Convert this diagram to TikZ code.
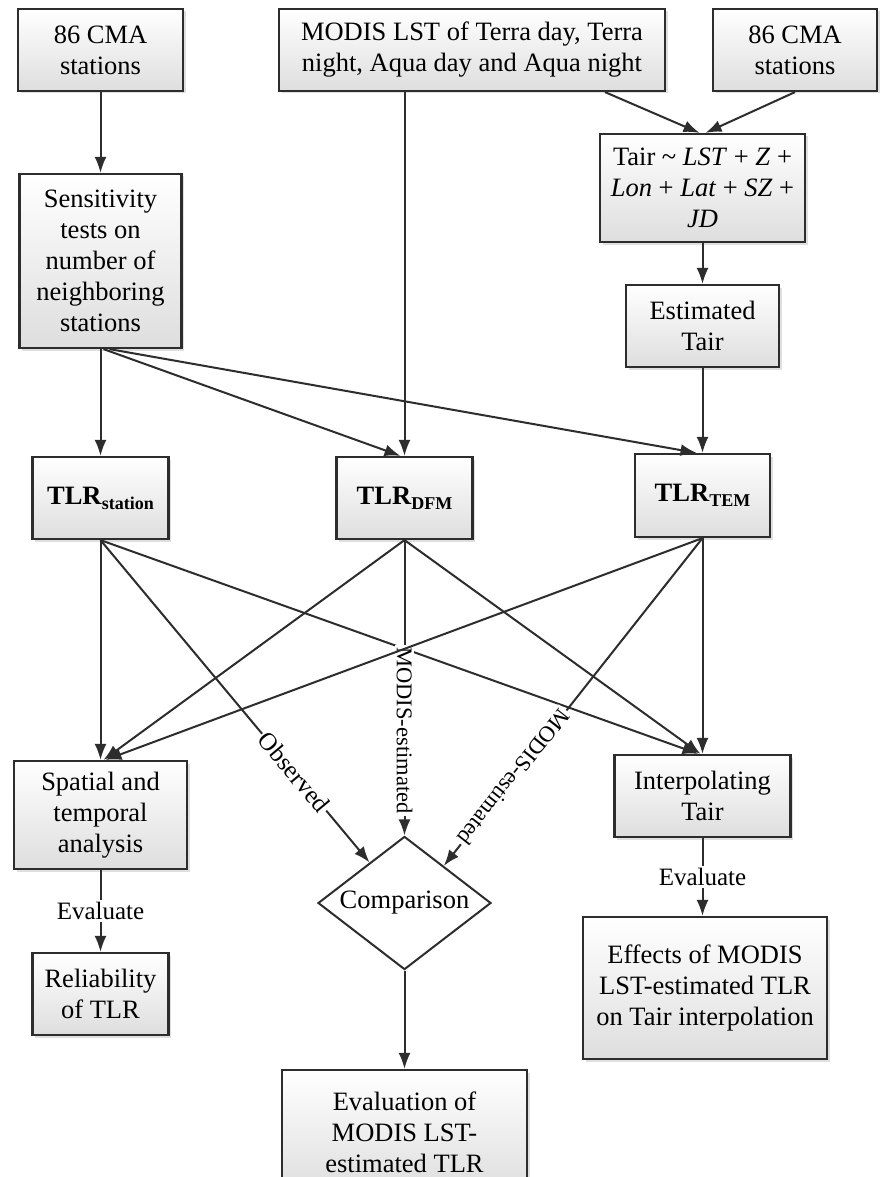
\documentclass[tikz,border=0pt]{standalone}
\usepackage{fontspec}
\setmainfont{Liberation Serif}
\usetikzlibrary{shapes.geometric,arrows.meta,shadows,calc}
\definecolor{lncol}{RGB}{45,45,45}
\begin{document}
\begin{tikzpicture}[x=1pt,y=-1pt,
  ln/.style={draw=lncol, line width=2pt},
  arr/.style={ln, -{Latex[length=16pt,width=12pt]}},
  box/.style={draw=lncol, line width=2.2pt, top color=white, bottom color=black!13,
    drop shadow={shadow xshift=2.5pt,shadow yshift=-2.5pt,opacity=0.25},
    align=center, inner sep=0pt, font=\fontsize{26.5}{31}\selectfont},
  lbl/.style={fill=white, inner sep=2pt, font=\fontsize{25}{30}\selectfont},
  slbl/.style={fill=white, inner sep=2pt, font=\fontsize{22.5}{27}\selectfont}
]
\useasboundingbox (0,0) rectangle (879,1177);

% nodes
\node[box, minimum width=165pt, minimum height=82pt] (a1) at (100.5,50) {86 CMA\\stations};
\node[box, minimum width=386pt, minimum height=82pt] (modis) at (472,50) {MODIS LST of Terra day, Terra\\night, Aqua day and Aqua night};
\node[box, minimum width=164pt, minimum height=82pt] (a2) at (795,50) {86 CMA\\stations};
\node[box, minimum width=205pt, minimum height=108pt] (tair) at (702.5,188) {Tair \textasciitilde{} \textit{LST} + \textit{Z} +\\\textit{Lon} + \textit{Lat} + \textit{SZ} +\\\textit{JD}};
\node[box, minimum width=162pt, minimum height=174pt] (sens) at (100.5,261) {Sensitivity\\tests on\\number of\\neighboring\\stations};
\node[box, minimum width=153pt, minimum height=82pt] (est) at (702.5,326) {Estimated\\Tair};
\node[box, minimum width=136pt, minimum height=82pt] (tlrs) at (100.5,498) {\textbf{TLR}\raisebox{-5pt}{\fontsize{18}{18}\selectfont\bfseries station}};
\node[box, minimum width=136pt, minimum height=82pt] (tlrd) at (404.5,498) {\textbf{TLR}\raisebox{-5pt}{\fontsize{18}{18}\selectfont\bfseries DFM}};
\node[box, minimum width=135pt, minimum height=83pt] (tlrt) at (702.5,495.5) {\textbf{TLR}\raisebox{-5pt}{\fontsize{18}{18}\selectfont\bfseries TEM}};
\node[box, minimum width=173pt, minimum height=108pt] (spat) at (100.5,815) {Spatial and\\temporal\\analysis};
\node[box, minimum width=176pt, minimum height=82pt] (interp) at (702.5,796) {Interpolating\\Tair};
\node[box, minimum width=136pt, minimum height=82pt] (rel) at (100.5,994) {Reliability\\of TLR};
\node[diamond, draw=lncol, line width=2pt, fill=white, minimum width=173pt, minimum height=80pt, inner sep=0pt, font=\fontsize{26.5}{31}\selectfont] (comp) at (404.5,903) {\makebox[110pt]{Comparison}};
\node[box, minimum width=244pt, minimum height=142pt] (eff) at (705,988) {Effects of MODIS\\LST-estimated TLR\\on Tair interpolation};
\node[box, minimum width=245pt, minimum height=124pt] (evalu) at (404.5,1132) {Evaluation of\\MODIS LST-\\estimated TLR};

% connectors top
\draw[arr] (a1.south) -- (sens.north);
\draw[arr] (tlrd.north |- modis.south) -- (tlrd.north);
\draw[arr] ([xshift=133pt]modis.south) -- ([xshift=-3pt]tair.north);
\draw[arr] (a2.south) -- ([xshift=3pt]tair.north);
\draw[arr] (tair.south) -- (est.north);
\draw[arr] (sens.south) -- (tlrs.north);
\draw[arr] ([xshift=3pt]sens.south) -- ([xshift=-4pt]tlrd.north);
\draw[arr] ([xshift=9pt]sens.south) -- ([xshift=-6pt]tlrt.north);
\draw[arr] (est.south) -- (tlrt.north);

% connectors middle
\draw[arr] (tlrs.south) -- (spat.north);
\draw[arr] (tlrs.south) -- node[lbl, pos=0.72, sloped] {Observed} ($(comp.north)!0.4!(comp.west)$);
\draw[arr] (tlrs.south) -- ([xshift=-4pt]interp.north);
\draw[arr] (tlrd.south) -- ([xshift=3pt]spat.north);
\draw[arr] (tlrd.south) -- node[slbl, pos=0.645, rotate=-90] {MODIS-estimated} (comp.north);
\draw[arr] (tlrd.south) -- ([xshift=-2pt]interp.north);
\draw[arr] (tlrt.south) -- ([xshift=5pt]spat.north);
\draw[arr] (tlrt.south) -- node[slbl, pos=0.73, sloped, allow upside down] {MODIS-estimated} ($(comp.north)!0.45!(comp.east)$);
\draw[arr] (tlrt.south) -- (interp.north);

% connectors bottom
\draw[arr] (spat.south) -- node[lbl, pos=0.5] {Evaluate} (rel.north);
\draw[arr] (interp.south) -- node[lbl, pos=0.5] {Evaluate} (interp.south |- eff.north);
\draw[arr] (comp.south) -- (evalu.north);
\end{tikzpicture}
\end{document}
